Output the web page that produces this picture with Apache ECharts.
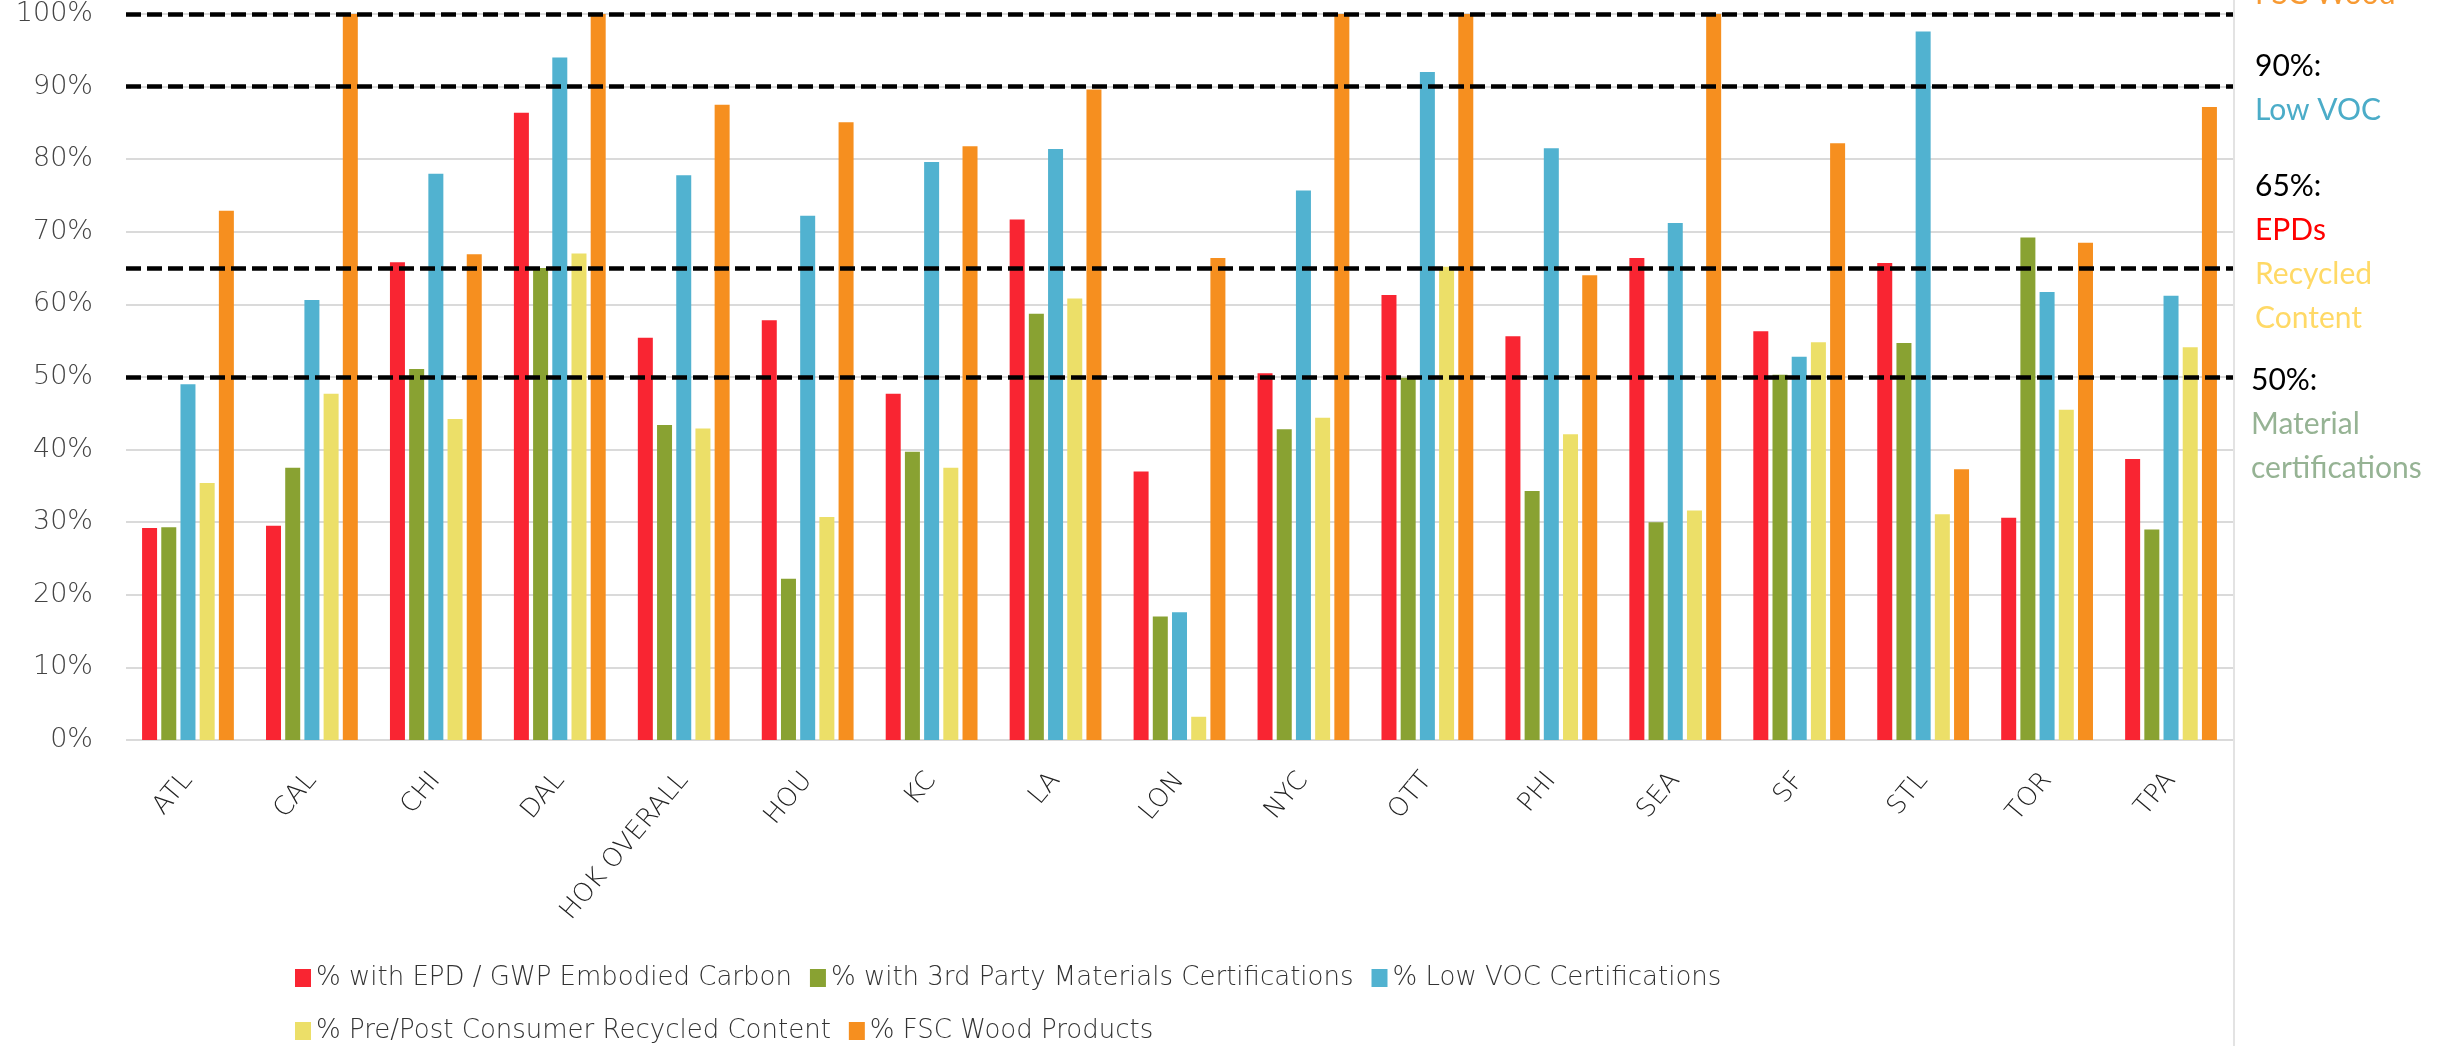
<!DOCTYPE html>
<html>
<head>
<meta charset="utf-8">
<script src="https://cdn.jsdelivr.net/npm/echarts/dist/echarts.min.js"></script>
<style>
  html, body { margin: 0; padding: 0; background: #fff; }
  #chart { width: 2447px; height: 1046px; }
</style>
</head>
<body>
<div id="chart"></div>
<script>
// Offices along the x axis
const cities = ["ATL", "CAL", "CHI", "DAL", "HOK OVERALL", "HOU", "KC", "LA", "LON",
  "NYC", "OTT", "PHI", "SEA", "SF", "STL", "TOR", "TPA"];

// Percent values per series
const epd = [29.2, 29.5, 65.8, 86.4, 55.4, 57.8, 47.7, 71.7, 37.0, 50.5, 61.3, 55.6, 66.4, 56.3, 65.7, 30.6, 38.7];
const thirdParty = [29.3, 37.5, 51.1, 65.0, 43.4, 22.2, 39.7, 58.7, 17.0, 42.8, 49.9, 34.3, 30.0, 50.3, 54.7, 69.2, 29.0];
const lowVoc = [49.0, 60.6, 78.0, 94.0, 77.8, 72.2, 79.6, 81.4, 17.6, 75.7, 92.0, 81.5, 71.2, 52.8, 97.6, 61.7, 61.2];
const recycled = [35.4, 47.7, 44.2, 67.0, 42.9, 30.7, 37.5, 60.8, 3.2, 44.4, 65.2, 42.1, 31.6, 54.8, 31.1, 45.5, 54.1];
const fsc = [72.9, 100, 66.9, 100, 87.5, 85.1, 81.8, 89.6, 66.4, 100, 100, 64.0, 100, 82.2, 37.3, 68.5, 87.2];

const seriesNames = [
  "% with EPD / GWP Embodied Carbon",
  "% with 3rd Party Materials Certifications",
  "% Low VOC Certifications",
  "% Pre/Post Consumer Recycled Content",
  "% FSC Wood Products",
];
const seriesData = [epd, thirdParty, lowVoc, recycled, fsc];
const colors = ["#F92532", "#89A232", "#51B2D0", "#ECDF68", "#F68F1F"];

// Target lines (dashed)
const targets = [100, 90, 65, 50];

// Target notes on the right side
const notes = [
  { lines: [["FSC Wood", "#F79A33"]], y: -6 },
  { lines: [["90%:", "#000"], ["Low VOC", "#4BACC8"]], y: 66 },
  { lines: [["65%:", "#000"], ["EPDs", "#FF0000"], ["Recycled", "#FFD966"], ["Content", "#FFD966"]], y: 186 },
  { lines: [["50%:", "#000"], ["Material", "#96B394"], ["certifications", "#96B394"]], y: 380, x: 2251 },
];

const chartElt = document.getElementById("chart");
const chart = echarts.init(chartElt, null, { renderer: "canvas" });

const axisFont = "DejaVu Sans";

const series = seriesNames.map((name, i) => ({
  name: name,
  type: "bar",
  data: seriesData[i],
  barWidth: 15,
  barGap: "28%",
  itemStyle: { color: colors[i] },
  emphasis: { disabled: true },
}));

// dashed target lines go on the last series so they sit over the bars
series[series.length - 1].markLine = {
  silent: true,
  symbol: "none",
  label: { show: false },
  lineStyle: { color: "#000", width: 4.5, type: [15, 6] },
  data: targets.map((v) => ({ yAxis: v })),
};

// build the note texts
const graphics = [
  {
    type: "line",
    shape: { x1: 2234, y1: 0, x2: 2234, y2: 1046 },
    style: { stroke: "#e3e3e3", lineWidth: 2 },
    silent: true,
  },
];
notes.forEach((n) => {
  n.lines.forEach((ln, k) => {
    graphics.push({
      type: "text",
      x: n.x || 2255,
      y: n.y + k * 44,
      style: {
        text: ln[0],
        fill: ln[1],
        font: "30px Lato",
        verticalAlign: "middle",
      },
      silent: true,
    });
  });
});

const legendText = { color: "#333", fontSize: 26, fontFamily: axisFont, fontWeight: 200 };

chart.setOption({
  backgroundColor: "#fff",
  animation: false,
  color: colors,
  grid: { left: 126, right: 214, top: 14, bottom: 306, containLabel: false },
  legend: [
    {
      data: seriesNames.slice(0, 3),
      left: 290,
      top: 960,
      icon: "rect",
      itemWidth: 16,
      itemHeight: 18,
      itemGap: 18,
      textStyle: legendText,
    },
    {
      data: seriesNames.slice(3),
      left: 290,
      top: 1013,
      icon: "rect",
      itemWidth: 16,
      itemHeight: 18,
      itemGap: 18,
      textStyle: legendText,
    },
  ],
  xAxis: {
    type: "category",
    data: cities,
    axisLine: { show: false },
    axisTick: { show: false },
    axisLabel: {
      rotate: 50,
      margin: 36,
      interval: 0,
      color: "#222",
      fontSize: 26,
      fontFamily: axisFont,
      fontWeight: 200,
    },
  },
  yAxis: {
    type: "value",
    min: 0,
    max: 100,
    interval: 10,
    axisLine: { show: false },
    axisTick: { show: false },
    axisLabel: {
      formatter: "{value}%",
      margin: 33,
      color: "#444",
      fontSize: 27,
      fontFamily: axisFont,
      fontWeight: 200,
    },
    splitLine: { lineStyle: { color: "#dadada", width: 2 } },
  },
  series: series,
  graphic: graphics,
});
</script>
</body>
</html>
